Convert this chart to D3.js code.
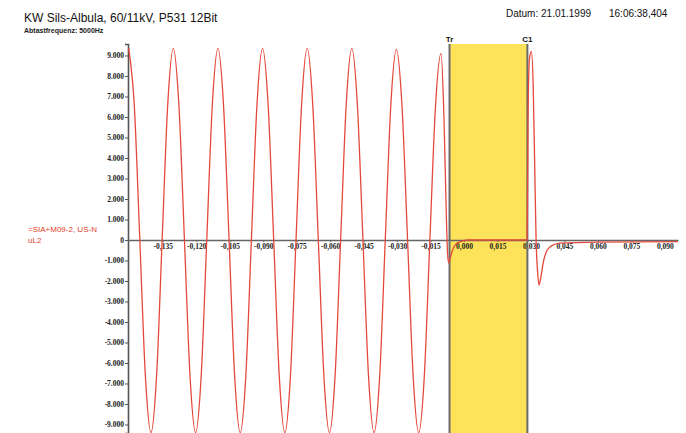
<!DOCTYPE html>
<html><head><meta charset="utf-8">
<script src="https://cdn.jsdelivr.net/npm/d3@7"></script>
<style>
html,body{margin:0;padding:0;background:#fff;}
svg{display:block;}
</style></head>
<body>
<svg id="c" width="686" height="433"></svg>
<script>
// ---- data ----
const sampleStart = -0.1503;      // s, first sample (a positive peak)
const sampleStep = 0.0025;        // s, eighth of a 50 Hz period
const sineValues = [
  9350, 6600, 0, -6650, -9400, -6650, 0, 6600,
  9350, 6600, 0, -6650, -9400, -6650, 0, 6600,
  9350, 6600, 0, -6650, -9400, -6650, 0, 6600,
  9350, 6600, 0, -6650, -9400, -6650, 0, 6600,
  9350, 6600, 0, -6650, -9400, -6650, 0, 6600,
  9350, 6600, 0, -6650, -9400, -6650, 0, 6600,
  9300, 6550, 0, -6650, -9400, -6650, 0, 6500,
  9100
];
const eventTimes  = [-0.0103, -0.0090, -0.0080, -0.0074, -0.0069, -0.0060, -0.0048, -0.0030, 0.0000, 0.0015,
                     0.0283, 0.0287, 0.0293, 0.0302, 0.0310, 0.0317, 0.0323, 0.0330, 0.0336, 0.0343,
                     0.0355, 0.0370, 0.0390, 0.0430, 0.0600, 0.0959];
const eventValues = [9100, 6000, 1500, -600, -1120, -800, -400, -150, -30, 0,
                     0, 6000, 8800, 9200, 7500, 3500, 0, -1600, -2200, -1900,
                     -1100, -550, -300, -150, -100, -80];
const markers = [{label: "Tr", t: -0.0065}, {label: "C1", t: 0.0284}];
const yTicks = [-9000,-8000,-7000,-6000,-5000,-4000,-3000,-2000,-1000,0,1000,2000,3000,4000,5000,6000,7000,8000,9000];
const xTicks = [-0.135,-0.120,-0.105,-0.090,-0.075,-0.060,-0.045,-0.030,-0.015,0,0.015,0.030,0.045,0.060,0.075,0.090];
const title = "KW Sils-Albula, 60/11kV, P531 12Bit";
const subtitle = "Abtastfrequenz: 5000Hz";
const dateText = "Datum: 21.01.1999";
const timeText = "16:06:38,404";
const seriesName = ["=SIA+M09-2, US-N", "uL2"];

// ---- build ----
const svg = d3.select("#c");
const loc = d3.formatLocale({decimal: ",", thousands: ".", grouping: [3], currency: ["", ""], minus: "-"});
const fy = loc.format(",");
const fx = loc.format(".3f");

const x = d3.scaleLinear().domain([-0.1506, 0.0959]).range([128, 678]);
const y = d3.scaleLinear().domain([-9415, 9560]).range([433, 44]);

const data = sineValues.map((v, i) => ({t: sampleStart + i * sampleStep, v}))
  .concat(eventTimes.slice(1).map((t, i) => ({t, v: eventValues[i + 1]})));

// yellow window between markers
const [tr, c1] = markers;
svg.append("rect")
  .attr("x", x(tr.t)).attr("y", y(9560))
  .attr("width", x(c1.t) - x(tr.t)).attr("height", 433 - y(9560))
  .attr("fill", "#fde25a");

// axes
const yAxis = d3.axisLeft(y).tickValues(yTicks).tickFormat(d => fy(d)).tickSize(3).tickPadding(1);
const gy = svg.append("g").attr("transform", `translate(${x.range()[0]},0)`).call(yAxis);
gy.select(".domain").attr("stroke", "#555").attr("stroke-width", 1.6);
gy.selectAll(".tick line").attr("stroke", "#555");
gy.selectAll("text").attr("font-family", "Liberation Serif").attr("font-size", 7.5).attr("fill", "#222").attr("font-weight", "bold");

const xAxis = d3.axisBottom(x).tickValues(xTicks).tickFormat(d => fx(d)).tickSize(2).tickSizeOuter(0).tickPadding(2);
const gx = svg.append("g").attr("transform", `translate(0,${y(0)})`).call(xAxis);
gx.select(".domain").attr("stroke", "#666").attr("stroke-width", 1.3);
gx.selectAll(".tick line").attr("stroke", "#666");
gx.selectAll("text").attr("font-family", "Liberation Serif").attr("font-size", 7.5).attr("fill", "#222").attr("font-weight", "bold");

// marker lines
markers.forEach(m => {
  svg.append("line").attr("x1", x(m.t)).attr("x2", x(m.t)).attr("y1", y(9560)).attr("y2", 433)
    .attr("stroke", "#6a6a6a").attr("stroke-width", 2);
  svg.append("text").attr("x", x(m.t)).attr("y", 42).attr("text-anchor", "middle")
    .attr("font-family", "Liberation Sans").attr("font-weight", "bold").attr("font-size", 8)
    .attr("fill", "#111").text(m.label);
});

// signal
const line = d3.line().x(d => x(d.t)).y(d => y(d.v)).curve(d3.curveMonotoneX);
svg.append("path").datum(data).attr("d", line)
  .attr("fill", "none").attr("stroke", "#e4483a").attr("stroke-width", 1.3);

// texts
svg.append("text").attr("x", 24).attr("y", 22).attr("font-family", "Liberation Sans")
  .attr("font-size", 12).attr("fill", "#111").text(title);
svg.append("text").attr("x", 24).attr("y", 33).attr("font-family", "Liberation Sans")
  .attr("font-size", 7).attr("font-weight", "bold").attr("fill", "#222").text(subtitle);
svg.append("text").attr("x", 506).attr("y", 17).attr("font-family", "Liberation Sans")
  .attr("font-size", 10).attr("fill", "#111").text(dateText);
svg.append("text").attr("x", 609).attr("y", 17).attr("font-family", "Liberation Sans")
  .attr("font-size", 10).attr("fill", "#111").text(timeText);
seriesName.forEach((s, i) => {
  svg.append("text").attr("x", 28).attr("y", 232 + i * 11).attr("font-family", "Liberation Sans")
    .attr("font-size", 8).attr("fill", "#e3412e").text(s);
});
</script>
</body></html>
